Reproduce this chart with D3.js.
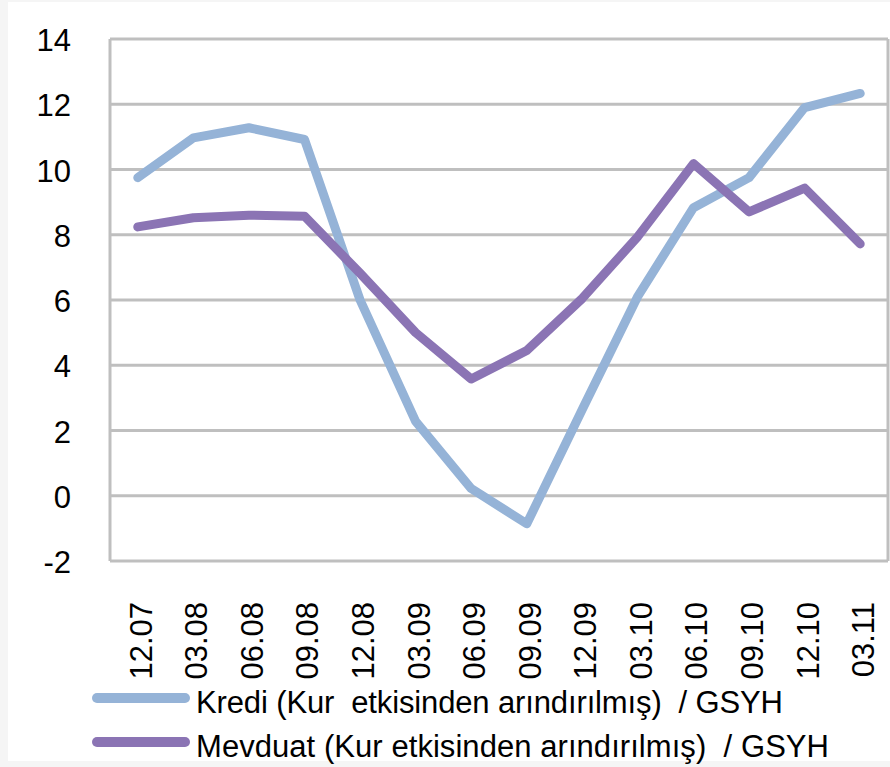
<!DOCTYPE html>
<html><head><meta charset="utf-8">
<script src="https://cdn.jsdelivr.net/npm/d3@7"></script>
<style>body{margin:0;background:#f5f5f5}svg{display:block}text{font-family:"Liberation Sans",Arial,sans-serif;fill:#000}</style>
</head><body><svg id="c" width="890" height="767"></svg>
<script>
const categories = ["12.07","03.08","06.08","09.08","12.08","03.09","06.09","09.09","12.09","03.10","06.10","09.10","12.10","03.11"];
const kredi   = [9.75,10.97,11.28,10.92,6.0,2.28,0.22,-0.86,2.65,6.12,8.83,9.75,11.9,12.33];
const mevduat = [8.24,8.52,8.6,8.57,6.82,5.0,3.58,4.45,6.05,7.95,10.18,8.7,9.43,7.72];
const yTicks = [-2,0,2,4,6,8,10,12,14];
const seriesNames = ["Kredi (Kur  etkisinden arındırılmış)  / GSYH","Mevduat (Kur etkisinden arındırılmış)  / GSYH"];
const colors = ["#95b3d7","#8b74b4"];

const svg = d3.select("#c");
svg.append("rect").attr("x",8).attr("y",2).attr("width",882).attr("height",759).attr("fill","#fff");

const L=110,R=888,T=39,B=561;
const x = d3.scaleBand().domain(categories).range([L,R]);
const y = d3.scaleLinear().domain([-2,14]).range([B,T]);

const g = svg.append("g");
g.selectAll("line.grid").data(yTicks).join("line")
  .attr("x1",L).attr("x2",R).attr("y1",d=>y(d)).attr("y2",d=>y(d))
  .attr("stroke","#bfbfbf").attr("stroke-width",3);
g.append("line").attr("x1",L).attr("x2",L).attr("y1",T).attr("y2",B).attr("stroke","#bfbfbf").attr("stroke-width",3);
g.append("line").attr("x1",R).attr("x2",R).attr("y1",T).attr("y2",B).attr("stroke","#bfbfbf").attr("stroke-width",3);

g.selectAll("text.yt").data(yTicks).join("text")
  .attr("x",71).attr("y",d=>y(d)+12).attr("text-anchor","end")
  .style("font-size","31px").text(d=>d);

g.selectAll("text.xt").data(categories).join("text")
  .attr("transform",d=>`translate(${x(d)+x.bandwidth()/2},602) rotate(-90)`)
  .attr("text-anchor","end").attr("dy","0.45em")
  .style("font-size","31px").text(d=>d);

const line = d3.line().x((d,i)=>x(categories[i])+x.bandwidth()/2).y(d=>y(d));
[kredi,mevduat].forEach((s,i)=>{
  g.append("path").attr("d",line(s)).attr("fill","none").attr("stroke",colors[i])
   .attr("stroke-width",9).attr("stroke-linecap","round").attr("stroke-linejoin","round");
});

const legY=[698,742], legW=[587,633];
seriesNames.forEach((n,i)=>{
  g.append("line").attr("x1",97).attr("x2",185).attr("y1",legY[i]).attr("y2",legY[i])
   .attr("stroke",colors[i]).attr("stroke-width",10).attr("stroke-linecap","round");
  g.append("text").attr("x",196).attr("y",legY[i]+15).style("font-size","31px")
   .style("white-space","pre").attr("textLength",legW[i]).attr("lengthAdjust","spacing").text(n);
});
</script></body></html>
